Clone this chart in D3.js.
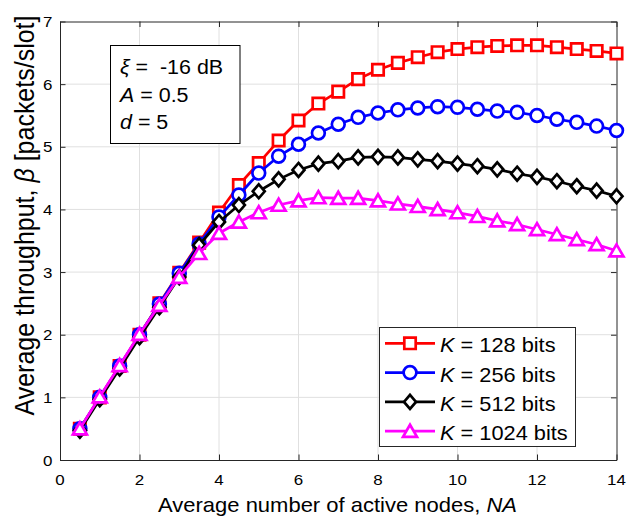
<!DOCTYPE html>
<html>
<head>
<meta charset="utf-8">
<script src="https://cdn.jsdelivr.net/npm/d3@7"></script>
<style>
  html, body { margin: 0; padding: 0; background: #fff; }
  svg { display: block; }
  text { font-family: "Liberation Sans", Arial, Helvetica, sans-serif; fill: #000; white-space: pre; }
</style>
</head>
<body>
<svg id="chart" width="635" height="519"></svg>
<script>
// Average number of active nodes (x values)
const nodes = [0.5, 1, 1.5, 2, 2.5, 3, 3.5, 4, 4.5, 5, 5.5, 6, 6.5, 7, 7.5, 8, 8.5, 9, 9.5, 10, 10.5, 11, 11.5, 12, 12.5, 13, 13.5, 14];

// Average throughput for each packet size
const k128 = [0.50, 1.00, 1.50, 2.00, 2.50, 2.99, 3.47, 3.95, 4.39, 4.74, 5.10, 5.42, 5.69, 5.88, 6.08, 6.23, 6.34, 6.43, 6.51, 6.56, 6.59, 6.61, 6.62, 6.62, 6.59, 6.56, 6.53, 6.49];
const k256 = [0.50, 1.00, 1.50, 2.00, 2.49, 2.98, 3.45, 3.88, 4.23, 4.58, 4.85, 5.04, 5.22, 5.36, 5.47, 5.54, 5.59, 5.62, 5.64, 5.63, 5.60, 5.57, 5.55, 5.50, 5.44, 5.39, 5.33, 5.26];
const k512 = [0.47, 0.97, 1.46, 1.96, 2.44, 2.92, 3.43, 3.80, 4.07, 4.29, 4.48, 4.63, 4.73, 4.77, 4.83, 4.84, 4.83, 4.80, 4.77, 4.73, 4.69, 4.64, 4.57, 4.52, 4.45, 4.37, 4.30, 4.21];
const k1024 = [0.50, 1.01, 1.51, 2.01, 2.47, 2.92, 3.30, 3.62, 3.80, 3.95, 4.07, 4.14, 4.19, 4.18, 4.18, 4.14, 4.09, 4.05, 4.00, 3.95, 3.89, 3.82, 3.76, 3.68, 3.60, 3.52, 3.44, 3.34];

const seriesNames = ["128", "256", "512", "1024"];
const xTicks = [0, 2, 4, 6, 8, 10, 12, 14];
const yTicks = [0, 1, 2, 3, 4, 5, 6, 7];

const series = [
  { name: seriesNames[0], values: k128,  color: "#ff0000", marker: "square" },
  { name: seriesNames[1], values: k256,  color: "#0000ff", marker: "circle" },
  { name: seriesNames[2], values: k512,  color: "#000000", marker: "diamond" },
  { name: seriesNames[3], values: k1024, color: "#ff00ff", marker: "triangle" }
];

const SX = 1.1; // horizontal text stretch
const svg = d3.select("#chart");

const plot = { left: 60, right: 616.5, top: 21.5, bottom: 460 };
const x = d3.scaleLinear().domain([0, 14]).range([plot.left, plot.right]);
const y = d3.scaleLinear().domain([0, 7]).range([plot.bottom, plot.top]);

function placeText(sel, px, py, rot) {
  return sel.attr("transform", `translate(${px},${py}) scale(${SX},1)` + (rot ? ` rotate(${rot})` : ""));
}

// Grid
const grid = svg.append("g").attr("stroke", "#e0e0e0").attr("stroke-width", 1);
grid.selectAll("line.gx").data(xTicks.slice(1, -1)).join("line")
  .attr("x1", d => x(d)).attr("x2", d => x(d))
  .attr("y1", plot.top).attr("y2", plot.bottom);
grid.selectAll("line.gy").data(yTicks.slice(1, -1)).join("line")
  .attr("y1", d => y(d)).attr("y2", d => y(d))
  .attr("x1", plot.left).attr("x2", plot.right);

// Axes with inward ticks on all four sides
const tickLen = 5.5;
const axisColor = "#262626";
const axB = svg.append("g").attr("transform", `translate(0,${plot.bottom})`)
  .call(d3.axisBottom(x).tickValues(xTicks).tickSizeInner(-tickLen).tickSizeOuter(0).tickFormat(() => ""));
const axT = svg.append("g").attr("transform", `translate(0,${plot.top})`)
  .call(d3.axisTop(x).tickValues(xTicks).tickSizeInner(-tickLen).tickSizeOuter(0).tickFormat(() => ""));
const axL = svg.append("g").attr("transform", `translate(${plot.left},0)`)
  .call(d3.axisLeft(y).tickValues(yTicks).tickSizeInner(-tickLen).tickSizeOuter(0).tickFormat(() => ""));
const axR = svg.append("g").attr("transform", `translate(${plot.right},0)`)
  .call(d3.axisRight(y).tickValues(yTicks).tickSizeInner(-tickLen).tickSizeOuter(0).tickFormat(() => ""));
[axB, axT, axL, axR].forEach(a => {
  a.selectAll("path.domain").attr("stroke", axisColor).attr("stroke-width", 1);
  a.selectAll(".tick line").attr("stroke", axisColor).attr("stroke-width", 1);
});

// Tick labels
const tickFont = 15.4;
xTicks.forEach(t => {
  placeText(svg.append("text"), x(t), 485).attr("text-anchor", "middle")
    .attr("font-size", tickFont).attr("fill", "#262626").text(t);
});
yTicks.forEach(t => {
  placeText(svg.append("text"), 52.5, y(t) + 5.6).attr("text-anchor", "end")
    .attr("font-size", tickFont).attr("fill", "#262626").text(t);
});

// Axis titles
const xl = placeText(svg.append("text"), 337.5, 512).attr("text-anchor", "middle").attr("font-size", 20);
xl.append("tspan").text("Average number of active nodes, ");
xl.append("tspan").attr("font-style", "italic").text("NA");

const yl = placeText(svg.append("text"), 33.5, 215.5, -90).attr("text-anchor", "middle").attr("font-size", 25);
yl.append("tspan").text("Average throughput, ");
yl.append("tspan").attr("font-style", "italic").text("\u03B2");
yl.append("tspan").text(" [packets/slot]");

// Marker shapes
function markerPath(type) {
  switch (type) {
    case "square": return "M-5.7,-5.7H5.7V5.7H-5.7Z";
    case "diamond": return "M0,-7L6,0L0,7L-6,0Z";
    case "triangle": return "M0,-6.4L7,5.7L-7,5.7Z";
    default: return null;
  }
}
function drawMarker(g, type, color) {
  if (type === "circle") {
    g.append("circle").attr("r", 6.4).attr("fill", "#fff").attr("stroke", color).attr("stroke-width", 2.7);
  } else {
    g.append("path").attr("d", markerPath(type)).attr("fill", "#fff")
      .attr("stroke", color).attr("stroke-width", 2.7).attr("stroke-linejoin", "miter");
  }
}

// Series: line then markers, in plotting order
const line = d3.line().x(d => x(d[0])).y(d => y(d[1]));
series.forEach(s => {
  const pts = nodes.map((n, i) => [n, s.values[i]]);
  const g = svg.append("g");
  g.append("path").datum(pts).attr("d", line).attr("fill", "none")
    .attr("stroke", s.color).attr("stroke-width", 2.7).attr("stroke-linejoin", "round");
  pts.forEach(p => {
    const mg = g.append("g").attr("transform", `translate(${x(p[0])},${y(p[1])})`);
    drawMarker(mg, s.marker, s.color);
  });
});

// Parameter box
svg.append("rect").attr("x", 110.5).attr("y", 45.5).attr("width", 129.5).attr("height", 98)
  .attr("fill", "#fff").attr("stroke", "#000").attr("stroke-width", 1);
const annFont = 19.5;
const a1 = placeText(svg.append("text"), 120, 74).attr("font-size", annFont);
a1.append("tspan").attr("font-style", "italic").text("\u03BE");
a1.append("tspan").text(" =  -16 dB");
const a2 = placeText(svg.append("text"), 120, 101.7).attr("font-size", annFont);
a2.append("tspan").attr("font-style", "italic").text("A");
a2.append("tspan").text(" = 0.5");
const a3 = placeText(svg.append("text"), 120, 129).attr("font-size", annFont);
a3.append("tspan").attr("font-style", "italic").text("d");
a3.append("tspan").text(" = 5");

// Legend
const leg = { x: 379.5, y: 327.5, w: 196, h: 119 };
svg.append("rect").attr("x", leg.x).attr("y", leg.y).attr("width", leg.w).attr("height", leg.h)
  .attr("fill", "#fff").attr("stroke", "#262626").attr("stroke-width", 1);
series.forEach((s, i) => {
  const cy = 343.3 + i * 29.3;
  svg.append("line").attr("x1", 385).attr("x2", 435).attr("y1", cy).attr("y2", cy)
    .attr("stroke", s.color).attr("stroke-width", 2.7);
  const mg = svg.append("g").attr("transform", `translate(410,${cy})`);
  drawMarker(mg, s.marker, s.color);
  const t = placeText(svg.append("text"), 440, cy + 9).attr("font-size", 19.8);
  t.append("tspan").attr("font-style", "italic").text("K");
  t.append("tspan").text(` = ${s.name} bits`);
});
</script>
</body>
</html>
